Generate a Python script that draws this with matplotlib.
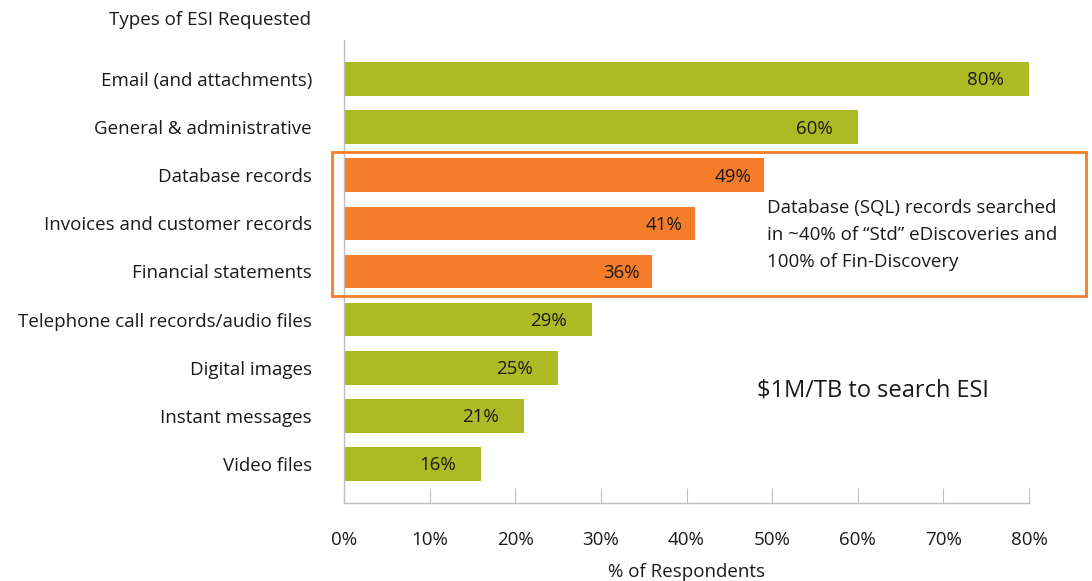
import matplotlib
import matplotlib.pyplot as plt
from matplotlib.patches import Rectangle

matplotlib.use("Agg")

categories = [
    "Email (and attachments)",
    "General & administrative",
    "Database records",
    "Invoices and customer records",
    "Financial statements",
    "Telephone call records/audio files",
    "Digital images",
    "Instant messages",
    "Video files",
]
values = [80, 60, 49, 41, 36, 29, 25, 21, 16]
highlight = [False, False, True, True, True, False, False, False, False]
xticks = [0, 10, 20, 30, 40, 50, 60, 70, 80]

GREEN = "#AEBA24"
ORANGE = "#F47C2B"
GRID = "#BFBFBF"
INK = "#1a1a1a"

plt.rcParams["font.family"] = ["Open Sans", "DejaVu Sans"]

fig = plt.figure(figsize=(10.92, 5.81), dpi=100)
ax = fig.add_axes([344 / 1092, 1 - 503 / 581, (1029 - 344) / 1092, (503 - 40) / 581])

ypos = list(range(len(categories)))
colors = [ORANGE if h else GREEN for h in highlight]
ax.barh(ypos, values, height=0.7, color=colors, zorder=2)

# value labels inside the bar ends
for y, v, h in zip(ypos, values, highlight):
    off = 3.6 if h else 5.1
    ax.text(v - off, y + 0.03, f"{v}%", ha="center", va="center", fontsize=13.5, color=INK)

ax.set_xlim(0, 80)
ax.set_ylim(len(categories) - 0.19, -0.81)
ax.set_yticks(ypos)
ax.set_yticklabels(categories, fontsize=13.5, color=INK)
ax.tick_params(axis="y", length=0, pad=23)
ax.set_xticks(xticks)
ax.set_xticklabels([f"{t}%" for t in xticks], fontsize=13.5, color=INK)
ax.tick_params(axis="x", direction="in", length=11, color=GRID, pad=20)
for side in ["top", "right"]:
    ax.spines[side].set_visible(False)
for side in ["left", "bottom"]:
    ax.spines[side].set_color(GRID)
    ax.spines[side].set_linewidth(1)
ax.set_xlabel("% of Respondents", fontsize=13.5, color=INK, labelpad=10)

fig.text(311 / 1092, 1 - 20 / 581, "Types of ESI Requested", ha="right", va="center",
         fontsize=13.5, color=INK)

# highlight box around database-type rows
fig.patches.append(Rectangle((332 / 1092, 1 - 296 / 581), (1086 - 332) / 1092, (296 - 152) / 581,
                             transform=fig.transFigure, fill=False, edgecolor=ORANGE,
                             linewidth=2, zorder=5))

fig.text(767 / 1092, 1 - 235 / 581,
         "Database (SQL) records searched\nin ~40% of \u201cStd\u201d eDiscoveries and\n100% of Fin-Discovery",
         ha="left", va="center", fontsize=13.5, linespacing=1.62, color=INK)
fig.text(757 / 1092, 1 - 390 / 581, "$1M/TB to search ESI", ha="left", va="center",
         fontsize=17, color=INK)

fig.savefig("out.png", dpi=100)
